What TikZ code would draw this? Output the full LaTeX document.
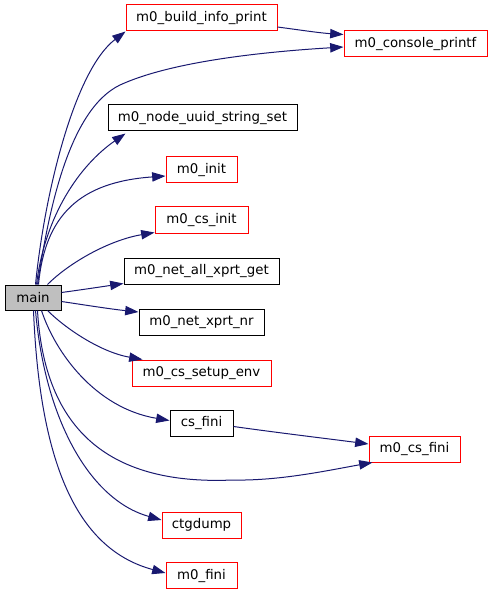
\documentclass[tikz,border=0pt]{standalone}
\usepackage{fontspec}
\setmainfont{DejaVu Sans}
\usetikzlibrary{arrows.meta,calc}
\definecolor{edgeblue}{HTML}{191970}
\definecolor{nodered}{HTML}{FF0000}
\definecolor{maingrey}{HTML}{BFBFBF}
\begin{document}
\begin{tikzpicture}[x=0.75pt,y=-0.75pt,
  box/.style={draw, line width=0.75pt, fill=white, inner sep=0pt, minimum height=19.5pt,
    font=\fontsize{10pt}{12pt}\selectfont},
  rbox/.style={box, draw=nodered, minimum width=#1*0.75pt},
  kbox/.style={box, draw=black, minimum width=#1*0.75pt},
  edge/.style={draw=edgeblue, line width=0.75pt, -{Triangle[length=10pt,width=7pt]}}]
\useasboundingbox (0,0) rectangle (492,595);
% nodes
\node[kbox=56, fill=maingrey, minimum height=18.75pt] (main) at (33,297.5) {main};
\node[rbox=151] (build) at (201.5,18) {m0\_build\_info\_print};
\node[rbox=143] (console) at (415.5,44) {m0\_console\_printf};
\node[kbox=189] (uuid) at (202.5,118) {m0\_node\_uuid\_string\_set};
\node[rbox=71] (init) at (201.5,170) {m0\_init};
\node[rbox=93] (csinit) at (201.5,220) {m0\_cs\_init};
\node[kbox=155] (netall) at (201.5,271) {m0\_net\_all\_xprt\_get};
\node[kbox=125] (xprtnr) at (201.5,322.5) {m0\_net\_xprt\_nr};
\node[rbox=139] (setup) at (201.5,373) {m0\_cs\_setup\_env};
\node[kbox=63] (csfini) at (201.5,423.5) {cs\_fini};
\node[rbox=91] (mcsfini) at (414.5,449) {m0\_cs\_fini};
\node[rbox=79] (ctg) at (201.5,525) {ctgdump};
\node[rbox=71] (fini) at (201.5,575.5) {m0\_fini};
% edges
\draw[edge] ($(main.north west)+(31,0)$) .. controls (45,190) and (75,70) .. (build.south west);
\draw[edge] ($(main.north west)+(33,0)$) .. controls (48,215) and (68,110) .. (120,85)
  .. controls (170,62) and (260,52) .. ($(console.west)+(0,3)$);
\draw[edge] ($(build.east)+(0,9)$) .. controls (300,30) and (320,33) .. ($(console.north west)+(0,4)$);
\draw[edge] ($(main.north west)+(32,0)$) .. controls (45,215) and (80,165) .. ($(uuid.south west)+(18,2)$);
\draw[edge] ($(main.north west)+(34,0)$) .. controls (45,215) and (80,182) .. ($(init.west)+(0,6)$);
\draw[edge] ($(main.north west)+(43,0)$) .. controls (70,262) and (110,240) .. ($(csinit.south west)+(0,-1)$);
\draw[edge] ($(main.east)+(0,-5)$) .. controls (80,290) and (100,287) .. ($(netall.south west)+(0,-1)$);
\draw[edge] ($(main.east)+(0,4)$) .. controls (85,305) and (110,309) .. ($(xprtnr.north west)+(0,3)$);
\draw[edge] ($(main.south west)+(43,0)$) .. controls (65,328) and (100,352) .. ($(setup.north west)+(11,0)$);
\draw[edge] ($(main.south west)+(37,0)$) .. controls (55,352) and (95,408) .. ($(csfini.west)+(0,-3)$);
\draw[edge] ($(csfini.east)+(0,3)$) .. controls (280,433) and (330,439) .. ($(mcsfini.west)+(0,-5)$);
\draw[edge] ($(main.south west)+(33,0)$) .. controls (45,440) and (120,485) .. (233,480)
  .. controls (280,481) and (330,470) .. ($(mcsfini.south west)+(4,0)$);
\draw[edge] ($(main.south west)+(31,0)$) .. controls (45,420) and (90,500) .. ($(ctg.west)+(0,-5)$);
\draw[edge] ($(main.south west)+(29,0)$) .. controls (40,470) and (80,550) .. ($(fini.west)+(0,-2.5)$);
\end{tikzpicture}
\end{document}
